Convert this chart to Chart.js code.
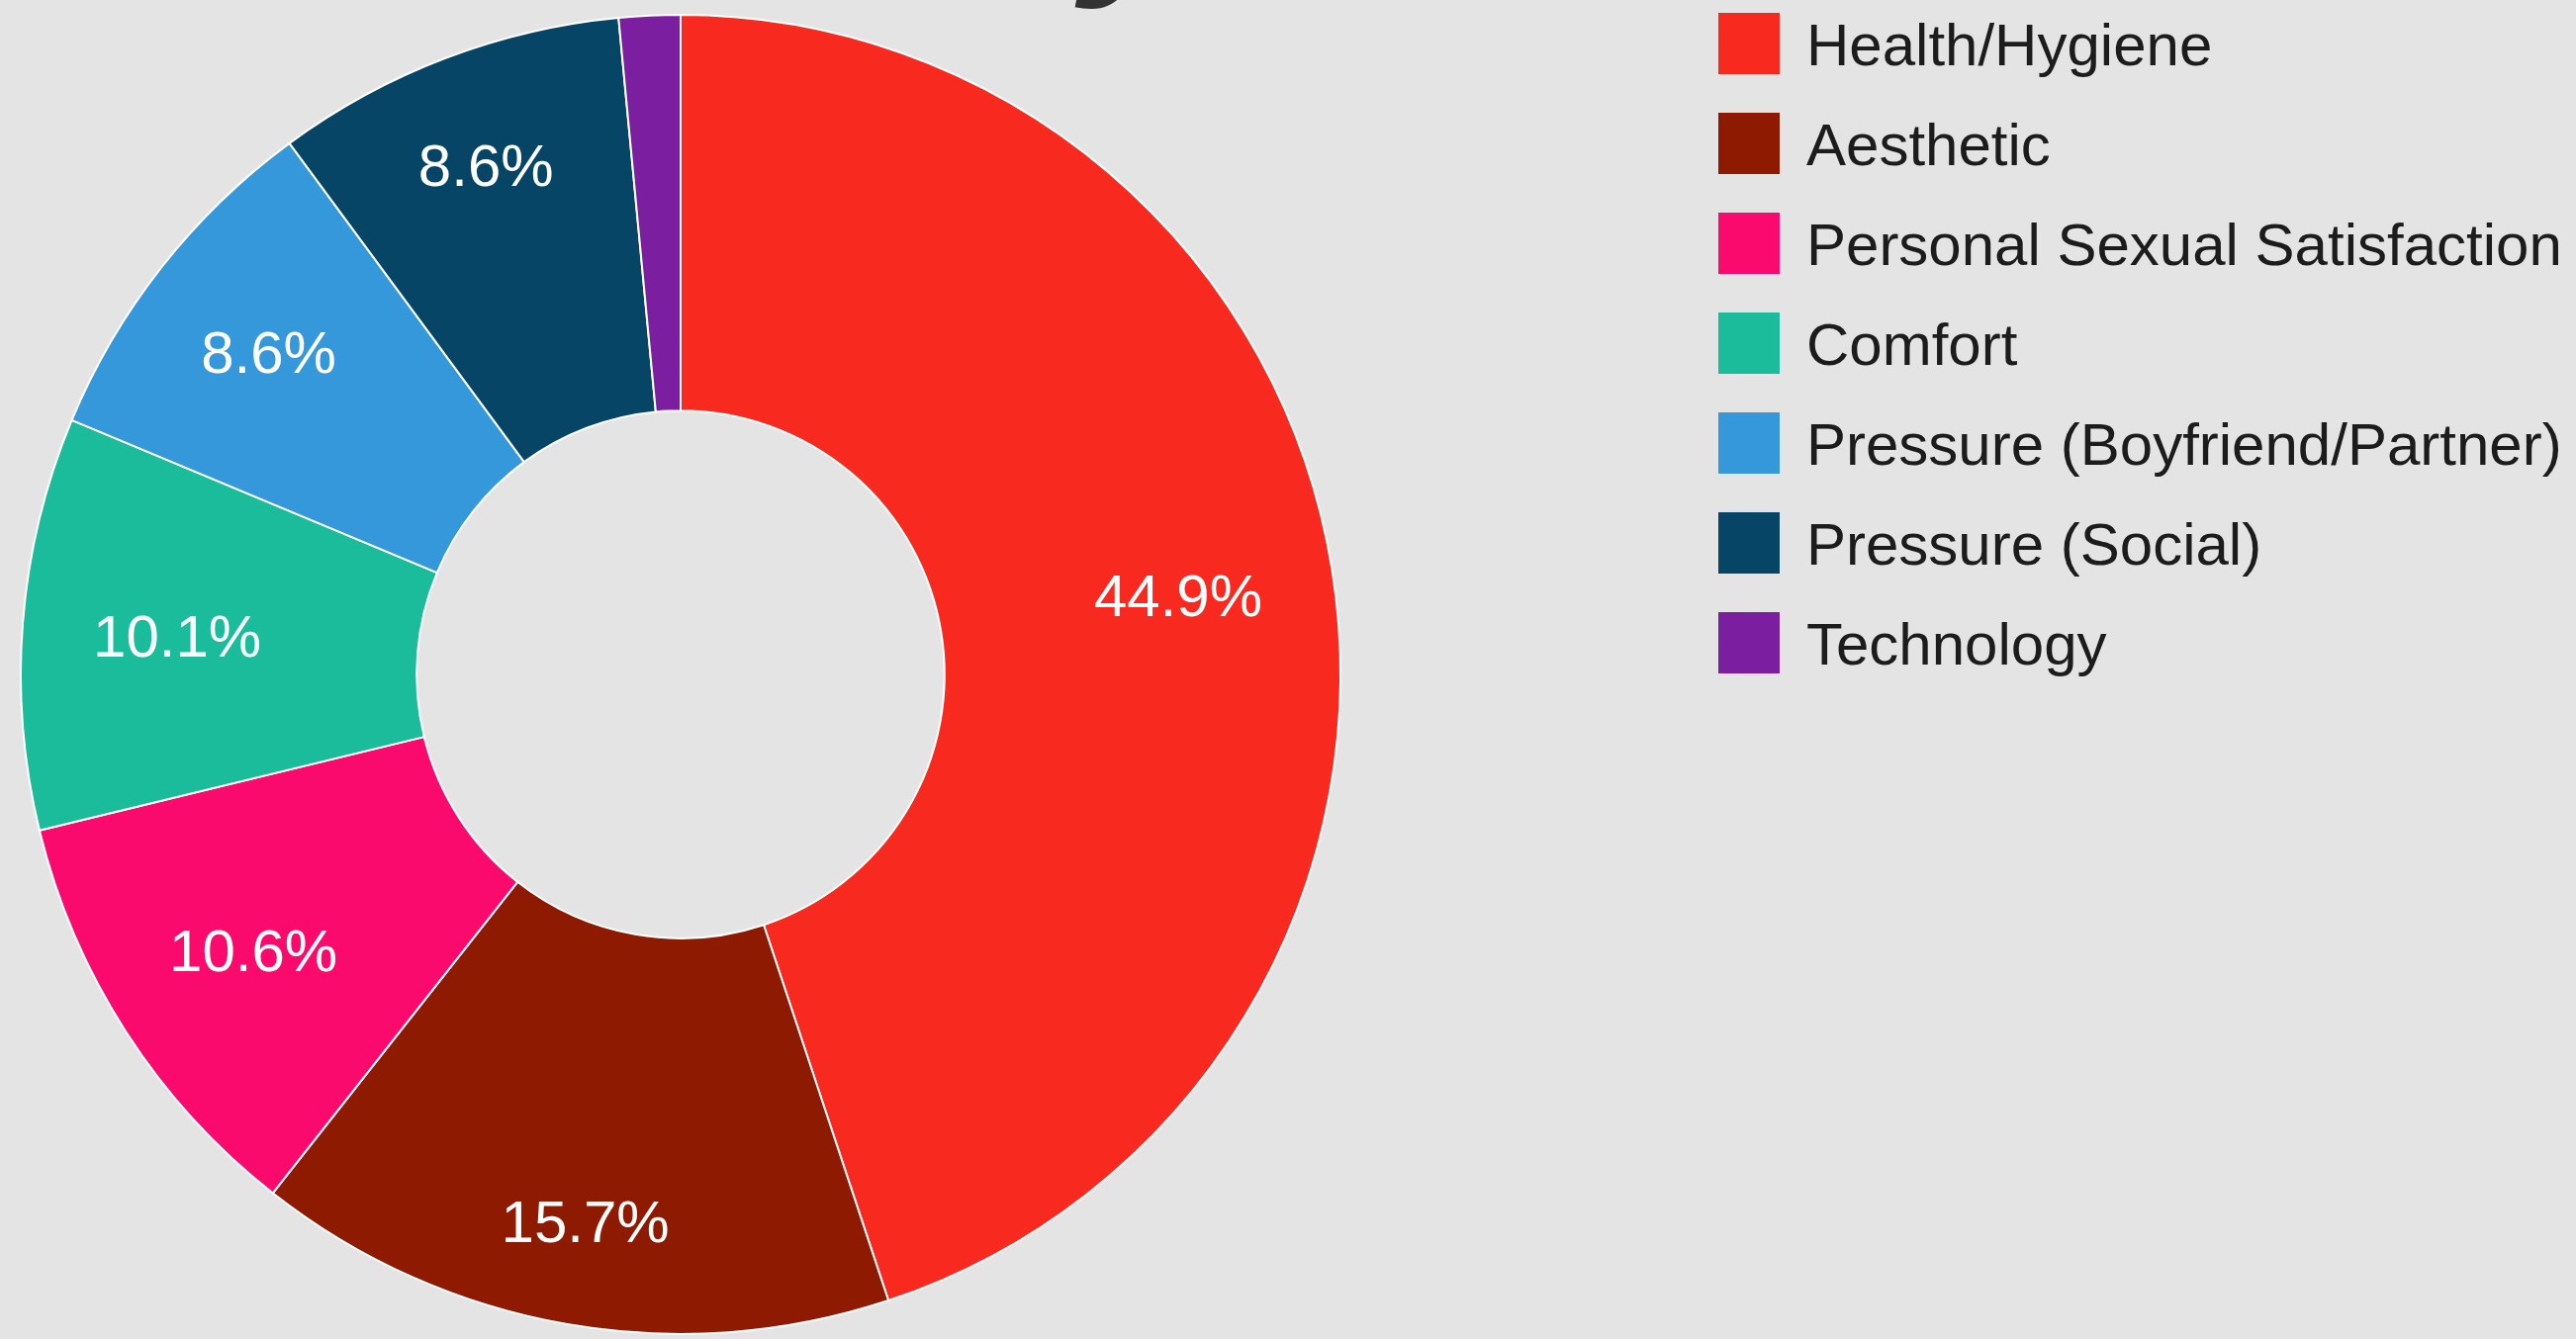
<!DOCTYPE html>
<html>
<head>
<meta charset="utf-8">
<script src="https://cdn.jsdelivr.net/npm/chart.js@4.4.1/dist/chart.umd.min.js"></script>
<style>
  html, body { margin: 0; padding: 0; background: #e4e4e4; }
  #wrap { width: 2604px; height: 1354px; }
</style>
</head>
<body>
<div id="wrap"><canvas id="reasonsChart" width="2604" height="1354"></canvas></div>
<script>
const labels = ["Health/Hygiene", "Aesthetic", "Personal Sexual Satisfaction", "Comfort",
  "Pressure (Boyfriend/Partner)", "Pressure (Social)", "Technology"];
const shares = [44.9, 15.7, 10.6, 10.1, 8.6, 8.6, 1.5];
const colors = ["#f8291f", "#8e1a02", "#f90a6c", "#1abc9c", "#3498db", "#064566", "#7b1fa0"];
const titleTail = "y"; // only the bottom of the page heading shows in the crop

const FONT = '"Liberation Sans", Arial, sans-serif';

// percentage text inside each slice (small slices get none)
const sliceLabels = {
  id: "sliceLabels",
  afterDatasetsDraw(chart) {
    const ctx = chart.ctx;
    const meta = chart.getDatasetMeta(0);
    ctx.save();
    ctx.font = "60px " + FONT;
    ctx.fillStyle = "#ffffff";
    ctx.textAlign = "center";
    ctx.textBaseline = "alphabetic";
    meta.data.forEach((arc, i) => {
      const v = chart.data.datasets[0].data[i];
      if (v < 5) return;
      const p = arc.getProps(["x", "y", "startAngle", "endAngle", "outerRadius"], true);
      const mid = (p.startAngle + p.endAngle) / 2;
      const text = v.toFixed(1) + "%";
      const halfW = ctx.measureText(text).width / 2;
      const halfH = 22;
      const c = Math.cos(mid), s = Math.sin(mid);
      const dist = p.outerRadius * 0.895 - (halfW * Math.abs(c) + halfH * Math.abs(s));
      ctx.fillText(text, p.x + c * dist, p.y + s * dist + halfH);
    });
    ctx.restore();
  }
};

// legend column on the right, built from the chart's labels and colours
const sideLegend = {
  id: "sideLegend",
  afterDraw(chart) {
    const ctx = chart.ctx;
    const ds = chart.data.datasets[0];
    ctx.save();
    ctx.font = "60px " + FONT;
    ctx.textBaseline = "alphabetic";
    chart.data.labels.forEach((label, i) => {
      const y = 13 + i * 101;
      ctx.fillStyle = ds.backgroundColor[i];
      ctx.fillRect(1737, y, 62, 62);
      ctx.fillStyle = "#1c1c1c";
      ctx.fillText(label, 1826, y + 31 + 21.5);
    });
    ctx.restore();
  }
};

const headingTail = {
  id: "headingTail",
  beforeDraw(chart) {
    const ctx = chart.ctx;
    ctx.save();
    ctx.font = "italic bold 200px " + FONT;
    ctx.fillStyle = "#333333";
    ctx.fillText(titleTail, 1095, -33);
    ctx.restore();
  }
};

new Chart(document.getElementById("reasonsChart"), {
  type: "doughnut",
  data: {
    labels: labels,
    datasets: [{
      data: shares,
      backgroundColor: colors,
      borderColor: "#ffffff",
      borderWidth: 2
    }]
  },
  options: {
    responsive: false,
    animation: false,
    cutout: "40%",
    layout: { padding: { left: 20, top: 14, right: 1248, bottom: 4 } },
    plugins: {
      legend: { display: false },
      tooltip: { enabled: false }
    }
  },
  plugins: [headingTail, sliceLabels, sideLegend]
});
</script>
</body>
</html>
